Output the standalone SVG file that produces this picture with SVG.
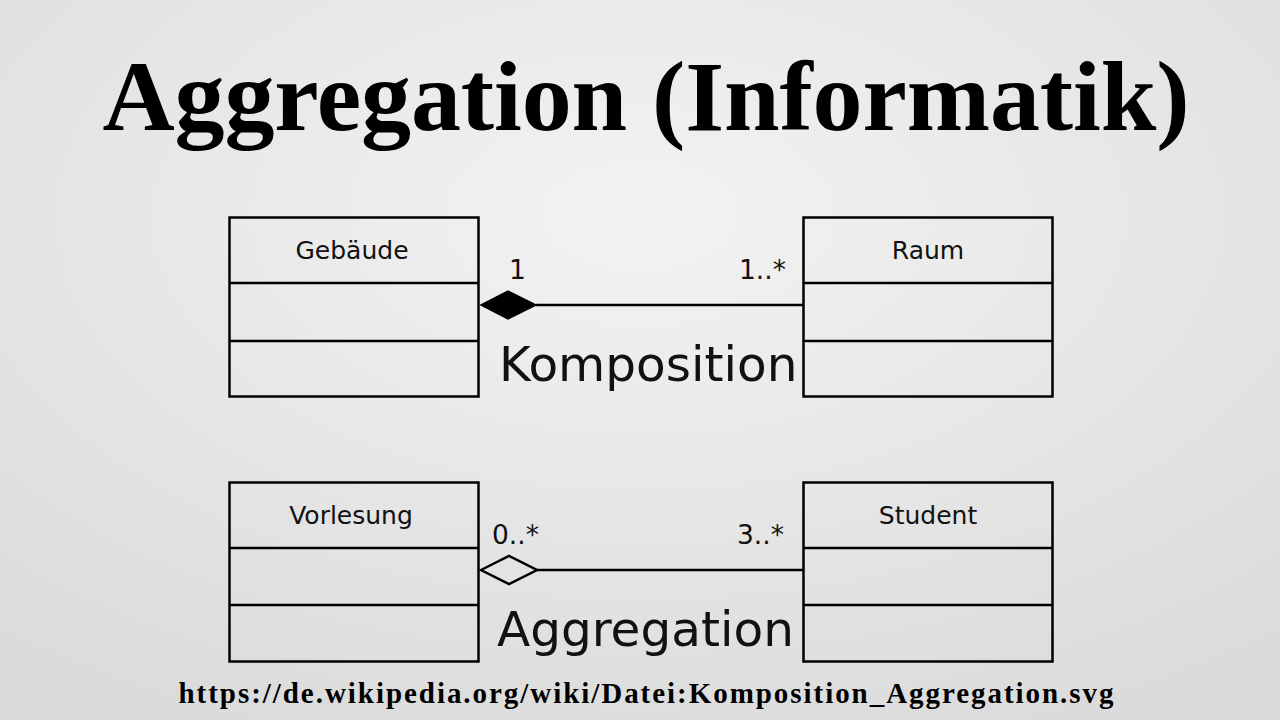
<svg xmlns="http://www.w3.org/2000/svg" width="1280" height="720" viewBox="0 0 1280 720">
<defs>
<radialGradient id="bg" cx="0.5" cy="0.3" r="0.8">
<stop offset="0" stop-color="#f3f3f3"/>
<stop offset="1" stop-color="#dadada"/>
</radialGradient>
<style>
.box{fill:none;stroke:#000;stroke-width:2.5}
.line{stroke:#000;stroke-width:2.5;fill:none}
.cls{font-family:"DejaVu Sans",sans-serif;font-size:25px;fill:#111;text-anchor:middle}
.mult{font-family:"DejaVu Sans",sans-serif;font-size:26.5px;fill:#111}
.big{font-family:"DejaVu Sans",sans-serif;font-size:48.5px;fill:#111}
</style>
</defs>
<rect width="1280" height="720" fill="url(#bg)"/>
<text x="646" y="130" font-family="'Liberation Serif',serif" font-weight="bold" font-size="100" text-anchor="middle" textLength="1087" fill="#000">Aggregation (Informatik)</text>
<g id="gebaeude">
<rect class="box" x="229.5" y="217.5" width="249" height="179"/>
<line class="line" x1="229.5" y1="283" x2="478.5" y2="283"/>
<line class="line" x1="229.5" y1="341" x2="478.5" y2="341"/>
<text class="cls" x="352" y="259">Gebäude</text>
</g>
<g id="raum">
<rect class="box" x="803.5" y="217.5" width="249" height="179"/>
<line class="line" x1="803.5" y1="283" x2="1052.5" y2="283"/>
<line class="line" x1="803.5" y1="341" x2="1052.5" y2="341"/>
<text class="cls" x="928" y="259">Raum</text>
</g>
<g id="vorlesung">
<rect class="box" x="229.5" y="482.5" width="249" height="179"/>
<line class="line" x1="229.5" y1="548" x2="478.5" y2="548"/>
<line class="line" x1="229.5" y1="605" x2="478.5" y2="605"/>
<text class="cls" x="351" y="524">Vorlesung</text>
</g>
<g id="student">
<rect class="box" x="803.5" y="482.5" width="249" height="179"/>
<line class="line" x1="803.5" y1="548" x2="1052.5" y2="548"/>
<line class="line" x1="803.5" y1="605" x2="1052.5" y2="605"/>
<text class="cls" x="928" y="524">Student</text>
</g>
<g id="connectors">
<line class="line" x1="536" y1="305" x2="803.5" y2="305"/>
<polygon points="481,305 508,291 536,305 508,319" fill="#000" stroke="#000" stroke-width="1.5"/>
<line class="line" x1="537" y1="570" x2="803.5" y2="570"/>
<polygon points="481,570 509,556 537,570 509,584" fill="none" stroke="#000" stroke-width="2.5"/>
<text class="mult" x="509" y="279">1</text>
<text class="mult" x="739" y="279">1..*</text>
<text class="big" x="499" y="381">Komposition</text>
<text class="mult" x="492" y="544">0..*</text>
<text class="mult" x="737" y="544">3..*</text>
<text class="big" x="497" y="646">Aggregation</text>
</g>
<text x="646" y="703" font-family="'Liberation Serif',serif" font-weight="bold" font-size="29" text-anchor="middle" textLength="935" fill="#000">https://de.wikipedia.org/wiki/Datei:Komposition_Aggregation.svg</text>
</svg>
